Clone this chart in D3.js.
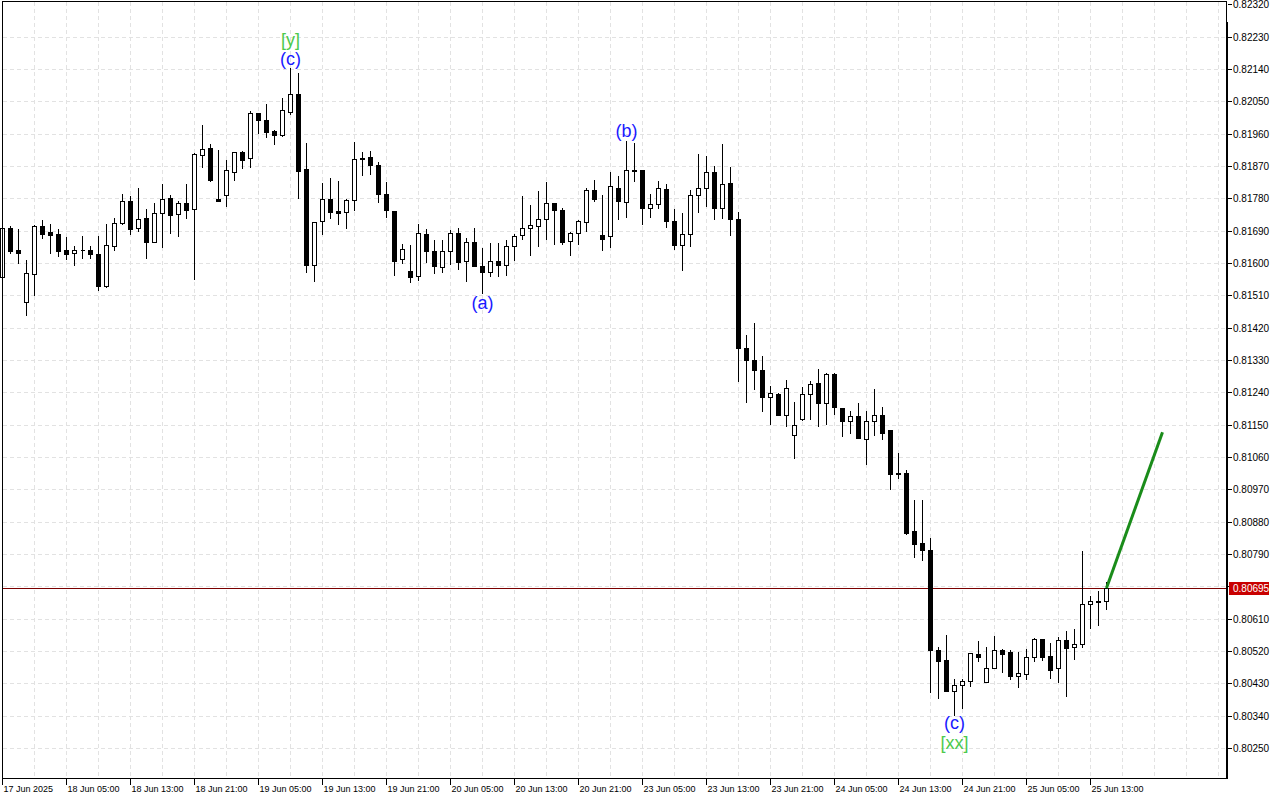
<!DOCTYPE html>
<html><head><meta charset="utf-8">
<script src="https://cdn.jsdelivr.net/npm/d3@7"></script>
<style>
html,body{margin:0;padding:0;background:#fff;}
svg{display:block;font-family:"Liberation Sans",Arial,sans-serif;}
</style></head>
<body>
<svg id="chart" width="1280" height="800"></svg>
<script>
// ---- data (hourly bars, 17 Jun 2025 21:00 .. 25 Jun 2025 15:00) ----
const opens = [
.81562,.81697,.81636,.81492,.81570,.81702,.81686,.81680,.81636,.81627,
.81635,.81635,.81624,.81537,.81646,.81712,.81772,.81697,.81724,.81659,
.81740,.81780,.81736,.81766,.81749,.81900,.81919,.81777,.81788,.81852,
.81908,.81891,.82017,.81998,.81967,.81957,.82020,.82070,.81861,.81595,
.81716,.81777,.81744,.81743,.81775,.81892,.81894,.81872,.81791,.81744,
.81610,.81577,.81563,.81680,.81633,.81588,.81633,.81683,.81605,.81658,
.81592,.81574,.81605,.81594,.81646,.81677,.81697,.81702,.81722,.81766,
.81747,.81660,.81683,.81713,.81802,.81678,.81674,.81808,.81769,.81858,
.81858,.81752,.81763,.81805,.81716,.81649,.81680,.81788,.81808,.81852,
.81752,.81822,.81722,.81364,.81329,.81303,.81226,.81234,.81176,.81121,
.81166,.81234,.81265,.81209,.81290,.81195,.81159,.81175,.81111,.81159,
.81176,.81134,.81014,.81014,.80853,.80820,.80800,.80523,.80494,.80409,
.80424,.80435,.80511,.80433,.80472,.80522,.80516,.80451,.80455,.80502,
.80552,.80505,.80472,.80550,.80530,.80538,.80650,.80658,.80658];
const highs = [
.81706,.81706,.81697,.81610,.81708,.81722,.81711,.81697,.81674,.81650,
.81678,.81650,.81678,.81711,.81727,.81794,.81789,.81812,.81752,.81770,
.81822,.81792,.81775,.81822,.81908,.81987,.81933,.81917,.81889,.81913,
.81915,.82026,.82017,.82046,.81972,.82062,.82146,.82132,.81936,.81716,
.81825,.81839,.81830,.81780,.81939,.81911,.81914,.81883,.81828,.81744,
.81655,.81652,.81710,.81697,.81666,.81666,.81695,.81700,.81672,.81700,
.81645,.81658,.81658,.81666,.81683,.81789,.81764,.81803,.81828,.81766,
.81755,.81688,.81722,.81811,.81833,.81791,.81856,.81845,.81942,.81937,
.81858,.81794,.81830,.81822,.81752,.81741,.81805,.81905,.81901,.81874,
.81934,.81869,.81744,.81402,.81435,.81343,.81260,.81240,.81276,.81215,
.81257,.81273,.81307,.81296,.81296,.81198,.81190,.81212,.81190,.81251,
.81201,.81137,.81074,.81026,.80944,.80944,.80838,.80533,.80567,.80446,
.80446,.80516,.80550,.80533,.80563,.80527,.80524,.80519,.80527,.80558,
.80555,.80544,.80561,.80577,.80583,.80800,.80675,.80689,.80714];
const lows = [
.81553,.81629,.81601,.81455,.81511,.81670,.81629,.81620,.81612,.81595,
.81615,.81615,.81526,.81534,.81637,.81709,.81682,.81690,.81615,.81659,
.81645,.81684,.81676,.81726,.81556,.81868,.81829,.81773,.81760,.81832,
.81865,.81868,.81963,.81952,.81932,.81954,.82016,.81782,.81576,.81551,
.81682,.81726,.81709,.81698,.81747,.81846,.81849,.81771,.81729,.81568,
.81601,.81548,.81553,.81603,.81573,.81574,.81598,.81584,.81551,.81591,
.81516,.81565,.81565,.81567,.81607,.81666,.81623,.81648,.81666,.81652,
.81652,.81621,.81652,.81688,.81772,.81635,.81645,.81722,.81729,.81828,
.81709,.81729,.81752,.81699,.81639,.81580,.81646,.81741,.81758,.81722,
.81724,.81677,.81272,.81214,.81250,.81189,.81153,.81176,.81145,.81056,
.81164,.81165,.81147,.81153,.81180,.81117,.81126,.81112,.81040,.81122,
.81109,.80972,.81001,.80845,.80782,.80774,.80406,.80390,.80409,.80342,
.80362,.80421,.80493,.80433,.80472,.80462,.80443,.80420,.80443,.80493,
.80495,.80445,.80434,.80395,.80498,.80532,.80585,.80593,.80637];
const closes = [
.81697,.81634,.81627,.81571,.81702,.81682,.81679,.81634,.81626,.81635,
.81635,.81624,.81537,.81649,.81710,.81772,.81695,.81722,.81659,.81738,
.81777,.81734,.81766,.81748,.81903,.81917,.81831,.81773,.81858,.81908,
.81888,.82017,.81999,.81966,.81957,.82025,.82070,.81857,.81595,.81713,
.81777,.81741,.81740,.81775,.81889,.81889,.81872,.81791,.81747,.81606,
.81638,.81560,.81683,.81634,.81591,.81633,.81683,.81604,.81658,.81591,
.81574,.81605,.81594,.81647,.81674,.81697,.81705,.81722,.81766,.81747,
.81659,.81683,.81716,.81802,.81777,.81666,.81814,.81772,.81858,.81855,
.81752,.81763,.81808,.81716,.81651,.81680,.81788,.81808,.81852,.81752,
.81819,.81722,.81364,.81329,.81303,.81226,.81237,.81176,.81251,.81150,
.81234,.81262,.81209,.81290,.81198,.81159,.81175,.81112,.81159,.81176,
.81128,.81013,.81013,.80847,.80817,.80800,.80523,.80493,.80409,.80424,
.80435,.80513,.80504,.80472,.80522,.80512,.80451,.80458,.80502,.80552,
.80504,.80468,.80550,.80527,.80538,.80650,.80658,.80655,.80695];

const priceTicks = [0.80250,0.80340,0.80430,0.80520,0.80610,0.80700,0.80790,0.80880,0.80970,0.81060,
  0.81150,0.81240,0.81330,0.81420,0.81510,0.81600,0.81690,0.81780,0.81870,0.81960,0.82050,0.82140,0.82230,0.82320];
const priceTickLabels = ["0.80250","0.80340","0.80430","0.80520","0.80610",null,"0.80790","0.80880","0.80970","0.81060",
  "0.81150","0.81240","0.81330","0.81420","0.81510","0.81600","0.81690","0.81780","0.81870","0.81960","0.82050","0.82140","0.82230","0.82320"];
const timeTickBars = [0,8,16,24,32,40,48,56,64,72,80,88,96,104,112,120,128,136];
const timeTickLabels = ["17 Jun 2025","18 Jun 05:00","18 Jun 13:00","18 Jun 21:00","19 Jun 05:00","19 Jun 13:00",
  "19 Jun 21:00","20 Jun 05:00","20 Jun 13:00","20 Jun 21:00","23 Jun 05:00","23 Jun 13:00","23 Jun 21:00",
  "24 Jun 05:00","24 Jun 13:00","24 Jun 21:00","25 Jun 05:00","25 Jun 13:00"];
const lastPrice = 0.80695;
const forecastBars = [138, 145];
const forecastPrices = [0.80695, 0.81129];
const waveBars   = [36, 36, 78, 60, 119, 119];
const wavePrices = [0.82221, 0.82168, 0.81968, 0.81489, 0.80319, 0.80264];
const waveTexts  = ["[y]", "(c)", "(b)", "(a)", "(c)", "[xx]"];
const waveColors = ["#4cc94c", "#1a1aff", "#1a1aff", "#1a1aff", "#1a1aff", "#4cc94c"];

// ---- scales ----
const fL = 2.5, fR = 1226.5, fT = 1.5, fB = 778.5;
const x = d3.scaleLinear().domain([0, 145]).range([2.5, 1162.5]);
const y = d3.scaleLinear().domain([0.80250, 0.82320]).range([747.9, 4.4]);
const py = p => Math.round(y(p)) + 0.5;

const svg = d3.select("#chart");
svg.append("rect").attr("width",1280).attr("height",800).attr("fill","#fff");

// grid
const grid = svg.append("g").attr("stroke","#e2e2e2").attr("stroke-dasharray","4,3").attr("shape-rendering","crispEdges");
grid.selectAll("line.h").data(priceTicks.slice(0,-1)).join("line")
  .attr("x1",fL).attr("x2",fR).attr("y1",d=>py(d)).attr("y2",d=>py(d));
const vIdx = d3.range(0, 153, 4).filter(i => x(i) < fR - 2);
grid.selectAll("line.v").data(vIdx).join("line")
  .attr("x1",d=>x(d)).attr("x2",d=>x(d)).attr("y1",fT).attr("y2",fB);

// price line
svg.append("line").attr("x1",fL).attr("x2",fR).attr("y1",py(lastPrice)).attr("y2",py(lastPrice))
  .attr("stroke","#7a0000").attr("stroke-width",1).attr("shape-rendering","crispEdges");

// candles
const idx = d3.range(opens.length);
const cg = svg.append("g").attr("shape-rendering","crispEdges");
cg.selectAll("line.w").data(idx).join("line")
  .attr("x1",i=>x(i)).attr("x2",i=>x(i)).attr("y1",i=>py(highs[i])).attr("y2",i=>py(lows[i]))
  .attr("stroke","#000").attr("stroke-width",1);
cg.selectAll("path.b").data(idx).join("path")
  .attr("d", i => {
    const y0 = py(Math.max(opens[i], closes[i])), y1 = py(Math.min(opens[i], closes[i]));
    const x0 = x(i) - 2, x1 = x(i) + 2;
    return `M${x0},${y0}H${x1}V${y1}H${x0}Z`;
  })
  .attr("fill", i => closes[i] > opens[i] ? "#fff" : "#000")
  .attr("stroke","#000").attr("stroke-width",1);

// forecast line
svg.append("line")
  .attr("x1",x(forecastBars[0])).attr("y1",y(forecastPrices[0]))
  .attr("x2",x(forecastBars[1])).attr("y2",y(forecastPrices[1]))
  .attr("stroke","#1a8c1a").attr("stroke-width",3);

// wave labels
svg.append("g").selectAll("text").data(d3.range(waveTexts.length)).join("text")
  .attr("x",i=>x(waveBars[i])).attr("y",i=>y(wavePrices[i]))
  .attr("text-anchor","middle").attr("dominant-baseline","central")
  .attr("font-size",18).attr("fill",i=>waveColors[i]).text(i=>waveTexts[i]);

// frame
svg.append("rect").attr("x",fL).attr("y",fT).attr("width",fR-fL).attr("height",fB-fT)
  .attr("fill","none").attr("stroke","#000").attr("shape-rendering","crispEdges");
svg.append("line").attr("x1",1227).attr("x2",1227).attr("y1",22).attr("y2",779)
  .attr("stroke","#000").attr("stroke-width",2);

// price axis
const pa = svg.append("g");
pa.selectAll("line").data(priceTicks).join("line")
  .attr("x1",1228).attr("x2",1232).attr("y1",d=>py(d)).attr("y2",d=>py(d))
  .attr("stroke","#000").attr("shape-rendering","crispEdges");
pa.selectAll("text").data(d3.range(priceTicks.length).filter(i=>priceTickLabels[i])).join("text")
  .attr("x",1233).attr("y",i=>py(priceTicks[i])).attr("dy","0.35em")
  .attr("font-size",10).attr("fill","#000").text(i=>priceTickLabels[i]);

// last price tag
svg.append("rect").attr("x",1229).attr("y",py(lastPrice)-6.5).attr("width",40).attr("height",13).attr("fill","#c80000");
svg.append("text").attr("x",1233).attr("y",py(lastPrice)).attr("dy","0.35em")
  .attr("font-size",10).attr("fill","#fff").text(lastPrice.toFixed(5));

// time axis
const ta = svg.append("g");
ta.selectAll("line").data(timeTickBars).join("line")
  .attr("x1",d=>x(d)).attr("x2",d=>x(d)).attr("y1",779).attr("y2",785)
  .attr("stroke","#000").attr("shape-rendering","crispEdges");
ta.selectAll("text").data(d3.range(timeTickBars.length)).join("text")
  .attr("x",i=>x(timeTickBars[i])+1).attr("y",792)
  .attr("font-size",9).attr("fill","#000").text(i=>timeTickLabels[i]);
</script>
</body></html>
